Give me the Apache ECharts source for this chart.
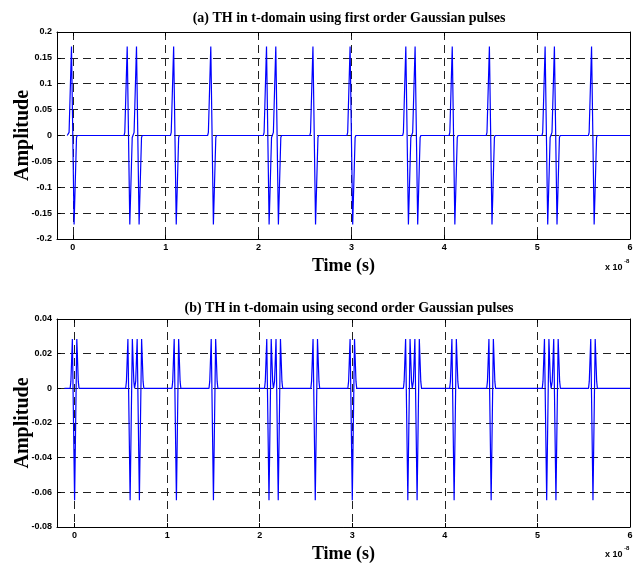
<!DOCTYPE html>
<html>
<head>
<meta charset="utf-8">
<script src="https://cdn.jsdelivr.net/npm/echarts@6/dist/echarts.min.js"></script>
<style>
  html, body { margin: 0; padding: 0; background: #fff; }
  #chart { width: 643px; height: 567px; }
</style>
</head>
<body>
<div id="chart"></div>
<script>
// pulse centres, in units of 1e-8 s
const pulseTimes = [0, 0.6, 0.7, 1.1, 1.5, 2.1, 2.2, 2.6, 3.0, 3.6, 3.7, 4.1, 4.5, 5.1, 5.2, 5.6];

// pulse shapes (offset from centre -> amplitude)
const firstOrderOffsets = [-0.048, -0.04, -0.014, 0.014, 0.04, 0.048];
const firstOrderValues = [0, 0.006, 0.172, -0.172, -0.004, 0];
const secondOrderOffsets = [-0.048, -0.04, -0.024, 0, 0.024, 0.04, 0.048];
const secondOrderValues = [0, 0.004, 0.0285, -0.0645, 0.0285, 0.004, 0];

// where each trace starts / ends
const topStart = -0.06;
const bottomStart = -0.11;
const endTime = 6;

// axis ranges
const xMinTop = -0.17;
const xMinBottom = -0.19;
const xMax = 6;
const yTop = { min: -0.2, max: 0.2, step: 0.05 };
const yBottom = { min: -0.08, max: 0.04, step: 0.02 };

const titles = [
  "(a) TH in t-domain using first order Gaussian pulses",
  "(b) TH in t-domain using second order Gaussian pulses",
];

function buildTrace(start, offsets, values) {
  const pts = [[start, 0]];
  pulseTimes.forEach((t) => {
    offsets.forEach((o, i) => {
      pts.push([+(t + o).toFixed(4), values[i]]);
    });
  });
  pts.push([endTime, 0]);
  return pts;
}

const topData = buildTrace(topStart, firstOrderOffsets, firstOrderValues);
const bottomData = buildTrace(bottomStart, secondOrderOffsets, secondOrderValues);

const labelFont = { fontFamily: "Liberation Sans", fontWeight: "bold", fontSize: 9, color: "#000" };
const nameFont = { fontFamily: "Liberation Serif", fontWeight: "bold", color: "#000" };
const dashed = { show: true, lineStyle: { color: "#222", type: [8, 5], width: 1 } };
const blackLine = { show: true, onZero: false, lineStyle: { color: "#000", width: 1 } };
const inTick = { inside: true, length: 4, lineStyle: { color: "#000" } };

function xAxes(grid, min) {
  return [
    {
      gridIndex: grid,
      type: "value",
      min: min,
      max: xMax,
      minInterval: 1,
      maxInterval: 1,
      axisLine: blackLine,
      axisTick: inTick,
      axisLabel: Object.assign({ margin: 4, showMinLabel: false }, labelFont),
      splitLine: dashed,
      name: "Time (s)",
      nameLocation: "middle",
      nameGap: 18,
      nameMoveOverlap: false,
      nameTextStyle: Object.assign({ fontSize: 18 }, nameFont),
    },
    {
      gridIndex: grid,
      type: "value",
      position: "top",
      min: min,
      max: xMax,
      minInterval: 1,
      maxInterval: 1,
      axisLine: blackLine,
      axisTick: inTick,
      axisLabel: { show: false },
      splitLine: { show: false },
    },
  ];
}

function yAxes(grid, r) {
  return [
    {
      gridIndex: grid,
      type: "value",
      min: r.min,
      max: r.max,
      interval: r.step,
      axisLine: blackLine,
      axisTick: inTick,
      axisLabel: Object.assign({ margin: 5 }, labelFont),
      splitLine: dashed,
      name: "Amplitude",
      nameLocation: "middle",
      nameRotate: 90,
      nameGap: 24,
      nameMoveOverlap: false,
      nameTextStyle: Object.assign({ fontSize: 20 }, nameFont),
    },
    {
      gridIndex: grid,
      type: "value",
      position: "right",
      min: r.min,
      max: r.max,
      interval: r.step,
      axisLine: blackLine,
      axisTick: inTick,
      axisLabel: { show: false },
      splitLine: { show: false },
    },
  ];
}

function expLabel(left, top) {
  return [
    {
      type: "text",
      left: left,
      top: top,
      style: { text: "x 10", font: "bold 9px Liberation Sans", fill: "#000" },
    },
    {
      type: "text",
      left: left + 19,
      top: top - 5,
      style: { text: "-8", font: "bold 6px Liberation Sans", fill: "#000" },
    },
  ];
}

const chart = echarts.init(document.getElementById("chart"), null, { renderer: "canvas" });

chart.setOption({
  animation: false,
  backgroundColor: "#fff",
  title: [
    {
      text: titles[0],
      left: 344,
      textAlign: "center",
      top: 6,
      textStyle: Object.assign({ fontSize: 14 }, nameFont),
    },
    {
      text: titles[1],
      left: 344,
      textAlign: "center",
      top: 296,
      textStyle: Object.assign({ fontSize: 14 }, nameFont),
    },
  ],
  grid: [
    { left: 57, right: 13, top: 32, height: 207, outerBoundsMode: "none", containLabel: false },
    { left: 57, right: 13, top: 319, height: 208, outerBoundsMode: "none", containLabel: false },
  ],
  xAxis: xAxes(0, xMinTop).concat(xAxes(1, xMinBottom)),
  yAxis: yAxes(0, yTop).concat(yAxes(1, yBottom)),
  series: [
    {
      type: "line",
      xAxisIndex: 0,
      yAxisIndex: 0,
      data: topData,
      showSymbol: false,
      z: 5,
      lineStyle: { color: "#0000ff", width: 1.2 },
    },
    {
      type: "line",
      xAxisIndex: 2,
      yAxisIndex: 2,
      data: bottomData,
      showSymbol: false,
      z: 5,
      lineStyle: { color: "#0000ff", width: 1.2 },
    },
  ],
  graphic: expLabel(605, 263).concat(expLabel(605, 550)),
});
</script>
</body>
</html>
